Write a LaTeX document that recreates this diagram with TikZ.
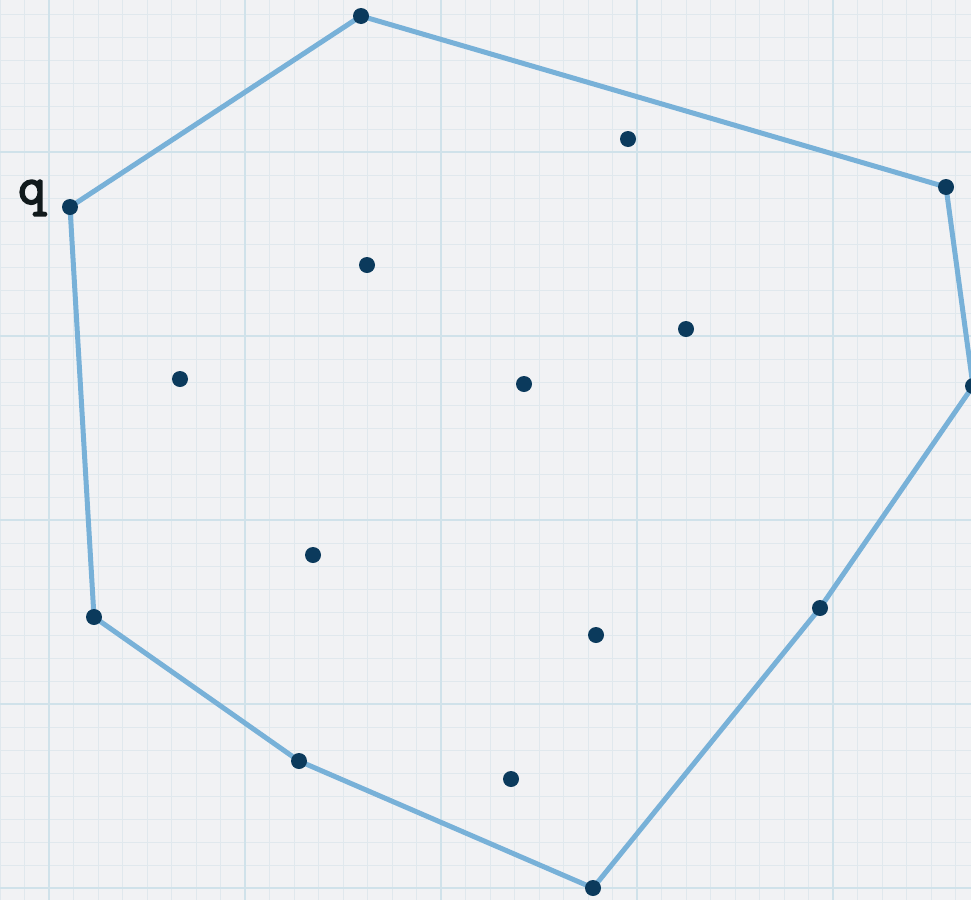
\documentclass[tikz,border=0pt]{standalone}
\usepackage{fontspec}
\newfontfamily\qfont[FakeBold=3.5]{Latin Modern Mono}
\usetikzlibrary{backgrounds}
\definecolor{bgc}{HTML}{F1F2F4}
\definecolor{minorc}{HTML}{E0E8ED}
\definecolor{majorc}{HTML}{D0E2EA}
\definecolor{hullc}{HTML}{78B1D8}
\definecolor{dotc}{HTML}{0B3A5C}
\definecolor{labc}{HTML}{111A1C}
\begin{document}
\begin{tikzpicture}[x=1pt,y=-1pt,
  dot/.style={circle,fill=dotc,inner sep=0pt,minimum size=16pt},
  hull/.style={draw=hullc,line width=5pt,line join=round},
  minorline/.style={draw=minorc,line width=1pt},
  majorline/.style={draw=majorc,line width=2.2pt},
  qlabel/.style={font=\qfont\fontsize{54}{54}\selectfont,text=labc,inner sep=0pt}]
\useasboundingbox (0,0) rectangle (971,900);
% hull points
\node[dot] (h1) at (70,207) {};
\node[dot] (h2) at (361,16) {};
\node[dot] (h3) at (946,187) {};
\node[dot] (h4) at (973,386) {};
\node[dot] (h5) at (820,608) {};
\node[dot] (h6) at (593,888) {};
\node[dot] (h7) at (299,761) {};
\node[dot] (h8) at (94,617) {};
% interior points
\node[dot] (i1) at (628,139) {};
\node[dot] (i2) at (367,265) {};
\node[dot] (i3) at (686,329) {};
\node[dot] (i4) at (180,379) {};
\node[dot] (i5) at (524,384) {};
\node[dot] (i6) at (313,555) {};
\node[dot] (i7) at (596,635) {};
\node[dot] (i8) at (511,779) {};
% label
\node[qlabel] (lq) at (32,198) {q};
\begin{scope}[on background layer]
  \fill[bgc] (0,0) rectangle (971,900);
  \foreach \k in {-2,...,38} {\draw[minorline] ({49+\k*24.5},0) -- ({49+\k*24.5},900);}
  \foreach \k in {-7,...,33} {\draw[minorline] (0,{152+\k*23}) -- (971,{152+\k*23});}
  \foreach \k in {0,...,4} {\draw[majorline] ({49+\k*196},0) -- ({49+\k*196},900);}
  \foreach \k in {0,...,4} {\draw[majorline] (0,{152+\k*184}) -- (971,{152+\k*184});}
  \draw[hull] (h1.center) -- (h2.center) -- (h3.center) -- (h4.center) -- (h5.center)
    -- (h6.center) -- (h7.center) -- (h8.center) -- cycle;
\end{scope}
\end{tikzpicture}
\end{document}
